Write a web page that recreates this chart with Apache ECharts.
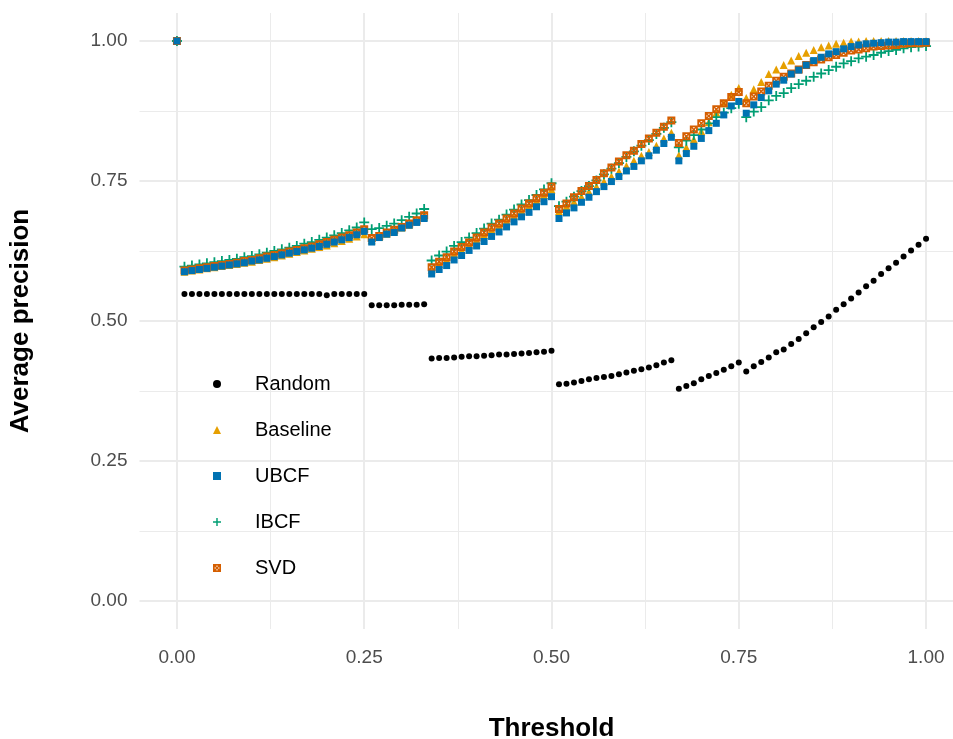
<!DOCTYPE html>
<html>
<head>
<meta charset="utf-8">
<script src="https://cdn.jsdelivr.net/npm/echarts@6/dist/echarts.min.js"></script>
<style>
  html, body { margin: 0; padding: 0; background: #fff; }
  #chart { width: 953px; height: 739px; }
</style>
</head>
<body>
<div id="chart"></div>
<script>
// thresholds 0.00 .. 1.00
const thresholds = [
  0.00, 0.01, 0.02, 0.03, 0.04, 0.05, 0.06, 0.07, 0.08, 0.09,
  0.10, 0.11, 0.12, 0.13, 0.14, 0.15, 0.16, 0.17, 0.18, 0.19,
  0.20, 0.21, 0.22, 0.23, 0.24, 0.25, 0.26, 0.27, 0.28, 0.29,
  0.30, 0.31, 0.32, 0.33, 0.34, 0.35, 0.36, 0.37, 0.38, 0.39,
  0.40, 0.41, 0.42, 0.43, 0.44, 0.45, 0.46, 0.47, 0.48, 0.49,
  0.50, 0.51, 0.52, 0.53, 0.54, 0.55, 0.56, 0.57, 0.58, 0.59,
  0.60, 0.61, 0.62, 0.63, 0.64, 0.65, 0.66, 0.67, 0.68, 0.69,
  0.70, 0.71, 0.72, 0.73, 0.74, 0.75, 0.76, 0.77, 0.78, 0.79,
  0.80, 0.81, 0.82, 0.83, 0.84, 0.85, 0.86, 0.87, 0.88, 0.89,
  0.90, 0.91, 0.92, 0.93, 0.94, 0.95, 0.96, 0.97, 0.98, 0.99,
  1.00
];

const randomVals = [
  1.000,
  0.548, 0.548, 0.548, 0.548, 0.548, 0.548, 0.548, 0.548, 0.548, 0.548,
  0.548, 0.548, 0.548, 0.548, 0.548, 0.548, 0.548, 0.548, 0.548, 0.546,
  0.548, 0.548, 0.548, 0.548, 0.548,
  0.528, 0.528, 0.528, 0.528, 0.529, 0.529, 0.529, 0.530,
  0.433, 0.434, 0.434, 0.435, 0.436, 0.437, 0.437, 0.438, 0.439, 0.440,
  0.440, 0.441, 0.442, 0.443, 0.444, 0.445, 0.447,
  0.387, 0.388, 0.390, 0.393, 0.396, 0.398, 0.400, 0.402, 0.405, 0.408,
  0.411, 0.414, 0.417, 0.421, 0.426, 0.430,
  0.379, 0.384, 0.389, 0.396, 0.402, 0.407, 0.413, 0.419, 0.426,
  0.410, 0.419, 0.427, 0.435, 0.444, 0.449, 0.459, 0.468, 0.478, 0.489,
  0.498, 0.508, 0.520, 0.530, 0.540, 0.551, 0.562, 0.572, 0.584, 0.594,
  0.604, 0.615, 0.626, 0.636, 0.647
];

const baselineVals = [
  1.000,
  0.588, 0.590, 0.592, 0.594, 0.596, 0.598, 0.600, 0.602, 0.604, 0.606,
  0.609, 0.611, 0.614, 0.617, 0.620, 0.623, 0.626, 0.629, 0.632, 0.635,
  0.639, 0.643, 0.647, 0.651, 0.655,
  0.644, 0.650, 0.656, 0.660, 0.667, 0.672, 0.678, 0.686,
  0.592, 0.602, 0.610, 0.620, 0.627, 0.636, 0.645, 0.654, 0.663, 0.670,
  0.679, 0.688, 0.697, 0.706, 0.715, 0.725, 0.735,
  0.696, 0.705, 0.713, 0.722, 0.731, 0.740, 0.749, 0.758, 0.767, 0.777,
  0.786, 0.795, 0.802, 0.813, 0.826, 0.836,
  0.796, 0.810, 0.824, 0.839, 0.855, 0.872, 0.889, 0.904, 0.916,
  0.898, 0.914, 0.927, 0.941, 0.949, 0.957, 0.965, 0.973, 0.979, 0.984,
  0.989, 0.992, 0.995, 0.997, 0.999, 0.999, 1.000, 1.000, 1.000, 1.000,
  1.000, 1.000, 1.000, 1.000, 1.000
];

const ubcfVals = [
  1.000,
  0.588, 0.590, 0.592, 0.594, 0.596, 0.598, 0.600, 0.602, 0.604, 0.607,
  0.609, 0.612, 0.615, 0.618, 0.621, 0.624, 0.627, 0.630, 0.633, 0.637,
  0.641, 0.645, 0.649, 0.654, 0.660,
  0.641, 0.649, 0.655, 0.658, 0.666, 0.671, 0.676, 0.683,
  0.584, 0.592, 0.599, 0.609, 0.617, 0.626, 0.634, 0.642, 0.651, 0.659,
  0.668, 0.677, 0.686, 0.694, 0.704, 0.713, 0.722,
  0.683, 0.693, 0.702, 0.712, 0.721, 0.731, 0.740, 0.749, 0.758, 0.768,
  0.776, 0.786, 0.795, 0.805, 0.817, 0.828,
  0.786, 0.799, 0.812, 0.826, 0.840, 0.853, 0.868, 0.884, 0.892,
  0.871, 0.886, 0.899, 0.911, 0.923, 0.930, 0.941, 0.948, 0.957, 0.965,
  0.971, 0.977, 0.981, 0.986, 0.990, 0.993, 0.995, 0.996, 0.997, 0.998,
  0.998, 0.999, 0.999, 0.999, 0.999
];

const ibcfVals = [
  1.000,
  0.597, 0.599, 0.601, 0.603, 0.605, 0.607, 0.609, 0.611, 0.614, 0.616,
  0.619, 0.622, 0.625, 0.628, 0.631, 0.634, 0.638, 0.641, 0.645, 0.649,
  0.653, 0.657, 0.662, 0.667, 0.676,
  0.664, 0.666, 0.670, 0.674, 0.680, 0.686, 0.692, 0.700,
  0.608, 0.617, 0.624, 0.634, 0.641, 0.649, 0.657, 0.665, 0.674, 0.681,
  0.690, 0.699, 0.708, 0.716, 0.725, 0.735, 0.746,
  0.705, 0.713, 0.722, 0.732, 0.741, 0.751, 0.762, 0.772, 0.782, 0.793,
  0.803, 0.813, 0.823, 0.834, 0.845, 0.855,
  0.810, 0.822, 0.832, 0.842, 0.853, 0.864, 0.872, 0.880, 0.888,
  0.864, 0.874, 0.882, 0.894, 0.902, 0.907, 0.916, 0.923, 0.929, 0.936,
  0.942, 0.948, 0.954, 0.960, 0.964, 0.969, 0.972, 0.975, 0.979, 0.982,
  0.984, 0.987, 0.989, 0.990, 0.991
];

const svdVals = [
  1.000,
  0.590, 0.592, 0.594, 0.596, 0.598, 0.600, 0.602, 0.604, 0.607, 0.609,
  0.612, 0.615, 0.618, 0.621, 0.624, 0.627, 0.630, 0.633, 0.637, 0.641,
  0.645, 0.649, 0.653, 0.658, 0.664,
  0.648, 0.652, 0.658, 0.663, 0.668, 0.674, 0.680, 0.689,
  0.596, 0.606, 0.614, 0.624, 0.632, 0.640, 0.649, 0.658, 0.667, 0.674,
  0.683, 0.692, 0.701, 0.710, 0.719, 0.729, 0.740,
  0.700, 0.710, 0.721, 0.732, 0.741, 0.752, 0.764, 0.774, 0.785, 0.796,
  0.804, 0.816, 0.826, 0.836, 0.847, 0.858,
  0.818, 0.830, 0.842, 0.853, 0.866, 0.878, 0.889, 0.900, 0.909,
  0.889, 0.901, 0.910, 0.920, 0.929, 0.936, 0.942, 0.949, 0.957, 0.962,
  0.967, 0.971, 0.975, 0.979, 0.983, 0.985, 0.987, 0.990, 0.991, 0.992,
  0.993, 0.995, 0.996, 0.996, 0.997
];

const majorTicks = [0, 0.25, 0.5, 0.75, 1];
const minorTicks = [0.125, 0.375, 0.625, 0.875];

const legendNames = ['Random', 'Baseline', 'UBCF', 'IBCF', 'SVD'];

// ggplot shapes: plus and boxed cross
const plusPath = 'path://M4.1,0 L5.9,0 L5.9,4.1 L10,4.1 L10,5.9 L5.9,5.9 L5.9,10 L4.1,10 L4.1,5.9 L0,5.9 L0,4.1 L4.1,4.1 Z';
const boxXPath = 'path://M0,0 L10,0 L10,10 L0,10 Z M3.5,2.2 L5,3.7 L6.5,2.2 Z M7.8,3.5 L6.3,5 L7.8,6.5 Z M6.5,7.8 L5,6.3 L3.5,7.8 Z M2.2,6.5 L3.7,5 L2.2,3.5 Z';

function pairs(vals) {
  return thresholds.map((t, i) => [t, vals[i]]);
}

const gridColor = '#ebebeb';
const labelColor = '#4d4d4d';
const font = '"Liberation Sans", Arial, sans-serif';

function majorAxis(extra) {
  return Object.assign({
    type: 'value',
    min: -0.05,
    max: 1.05,
    axisLine: { show: false },
    axisTick: { show: false, customValues: majorTicks },
    splitLine: { show: true, lineStyle: { color: gridColor, width: 2 } }
  }, extra);
}

function minorAxis(extra) {
  return Object.assign({
    type: 'value',
    min: -0.05,
    max: 1.05,
    axisLine: { show: false },
    axisTick: { show: false, customValues: minorTicks },
    axisLabel: { show: false, customValues: minorTicks },
    splitLine: { show: true, lineStyle: { color: gridColor, width: 1 } }
  }, extra);
}

const chart = echarts.init(document.getElementById('chart'), null, { renderer: 'canvas' });

chart.setOption({
  animation: false,
  backgroundColor: '#ffffff',
  grid: {
    left: 139.5, top: 13, width: 824, height: 616,
    containLabel: false, outerBoundsMode: 'none'
  },
  xAxis: [
    majorAxis({
      position: 'bottom',
      axisLabel: {
        customValues: majorTicks,
        color: labelColor,
        fontSize: 19,
        fontFamily: font,
        margin: 19,
        formatter: v => v.toFixed(2)
      },
      name: 'Threshold',
      nameLocation: 'middle',
      nameGap: 87,
      nameTextStyle: { color: '#000', fontSize: 26, fontWeight: 'bold', fontFamily: font }
    }),
    minorAxis({ position: 'top' })
  ],
  yAxis: [
    majorAxis({
      position: 'left',
      axisLabel: {
        customValues: majorTicks,
        color: labelColor,
        fontSize: 19,
        fontFamily: font,
        margin: 12,
        formatter: v => v.toFixed(2)
      },
      name: 'Average precision',
      nameLocation: 'middle',
      nameGap: 106,
      nameTextStyle: { color: '#000', fontSize: 26, fontWeight: 'bold', fontFamily: font }
    }),
    minorAxis({ position: 'right' })
  ],
  legend: {
    data: legendNames,
    orient: 'vertical',
    left: 208,
    top: 369,
    itemWidth: 8,
    itemHeight: 8,
    itemGap: 26,
    selectedMode: false,
    textStyle: {
      color: '#000', fontSize: 20, fontFamily: font, lineHeight: 20,
      padding: [0, 0, 0, 29]
    }
  },
  series: [
    {
      name: 'Random', type: 'scatter', data: pairs(randomVals),
      symbol: 'circle', symbolSize: 6, itemStyle: { color: '#000000', opacity: 1 }
    },
    {
      name: 'Baseline', type: 'scatter', data: pairs(baselineVals),
      symbol: 'triangle', symbolSize: 8, itemStyle: { color: '#E69F00', opacity: 1 }
    },
    {
      name: 'IBCF', type: 'scatter', data: pairs(ibcfVals),
      symbol: plusPath, symbolSize: 10, itemStyle: { color: '#009E73', opacity: 1 }
    },
    {
      name: 'SVD', type: 'scatter', data: pairs(svdVals),
      symbol: boxXPath, symbolSize: 8, itemStyle: { color: '#D55E00', opacity: 1 }
    },
    {
      name: 'UBCF', type: 'scatter', data: pairs(ubcfVals),
      symbol: 'rect', symbolSize: 7, itemStyle: { color: '#0072B2', opacity: 1 }
    }
  ]
});
</script>
</body>
</html>
